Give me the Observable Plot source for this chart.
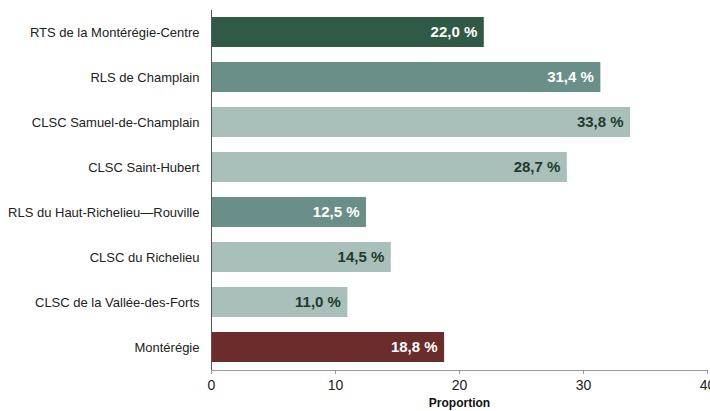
<!DOCTYPE html>
<html><head><meta charset="utf-8">
<script src="https://cdn.jsdelivr.net/npm/d3@7"></script>
<script src="https://cdn.jsdelivr.net/npm/@observablehq/plot@0.6"></script>
<style>body{margin:0;background:#fff;} #chart{position:relative;}</style>
</head><body><div id="chart"></div>
<script>
const categories = ["RTS de la Montérégie-Centre","RLS de Champlain","CLSC Samuel-de-Champlain","CLSC Saint-Hubert","RLS du Haut-Richelieu—Rouville","CLSC du Richelieu","CLSC de la Vallée-des-Forts","Montérégie"];
const values = [22.0, 31.4, 33.8, 28.7, 12.5, 14.5, 11.0, 18.8];
const levels = ["RTS","RLS","CLSC","CLSC","RLS","CLSC","CLSC","Région"];
const xTicks = [0, 10, 20, 30, 40];

const data = categories.map((c, i) => ({cat: c, v: values[i], level: levels[i]}));
const fillFor = {RTS: "#305a45", RLS: "#6a8f89", CLSC: "#a8bfba", "Région": "#6b2c2c"};
const textFor = {RTS: "#ffffff", RLS: "#ffffff", CLSC: "#1f3b2e", "Région": "#ffffff"};
const fmt = v => v.toFixed(1).replace(".", ",") + " %";

const plot = Plot.plot({
  width: 710, height: 411,
  marginLeft: 211, marginRight: 3, marginTop: 10, marginBottom: 41,
  style: {fontFamily: "'Liberation Sans', Arial, sans-serif", fontSize: "13px", color: "#222"},
  x: {domain: [0, 40], ticks: xTicks, label: null},
  y: {domain: categories, paddingInner: 0.333, paddingOuter: 0.165, label: null},
  marks: [
    Plot.barX(data, {y: "cat", x: "v", fill: d => fillFor[d.level]}),
    Plot.text(data, {y: "cat", x: "v", text: d => fmt(d.v), textAnchor: "end", dx: -7, fill: d => textFor[d.level], fontWeight: "bold", fontSize: 15}),
    Plot.ruleX([0], {stroke: "#555"}),
    Plot.frame({anchor: "bottom", stroke: "#999"}),
    Plot.axisX({ticks: xTicks, tickSize: 4, stroke: "#999", fontSize: 14, fill: "#222", tickPadding: 6, label: null}),
    Plot.axisY({tickSize: 0, tickPadding: 12, fontSize: 13, fill: "#222", label: null}),
    Plot.text(["Proportion"], {frameAnchor: "bottom", dy: 36, fontWeight: "bold", fontSize: 12, fill: "#111"})
  ]
});
document.getElementById("chart").appendChild(plot);
</script></body></html>
